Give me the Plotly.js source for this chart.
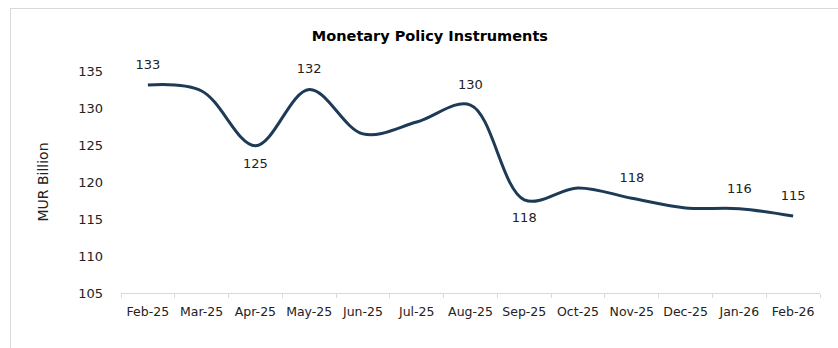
<!DOCTYPE html>
<html>
<head>
<meta charset="utf-8">
<script src="https://cdn.plot.ly/plotly-3.0.1.min.js"></script>
<style>
html,body{margin:0;padding:0;background:#fff;overflow:hidden;}
#frame{position:absolute;left:10px;top:8px;width:840px;height:350px;border:1px solid #d9d9d9;}
#chart{position:absolute;left:0;top:0;width:838px;height:348px;}
</style>
</head>
<body>
<div id="frame"></div>
<div id="chart"></div>
<script>
const months = ["Feb-25","Mar-25","Apr-25","May-25","Jun-25","Jul-25","Aug-25","Sep-25","Oct-25","Nov-25","Dec-25","Jan-26","Feb-26"];
const values = [133.1, 132.3, 124.9, 132.5, 126.5, 128.1, 130.4, 117.6, 119.2, 117.8, 116.5, 116.4, 115.4];
const labels = ["133","","125","132","","","130","118","","118","","116","115"];
const labelPos = ["top center","top center","bottom center","top center","top center","top center","top center","bottom center","top center","top center","top center","top center","top center"];

const font = "DejaVu Sans, Verdana, sans-serif";
Plotly.newPlot("chart", [{
  x: months,
  y: values,
  type: "scatter",
  mode: "lines+markers+text",
  line: {color: "#1d3a57", width: 3, shape: "spline", smoothing: 1},
  marker: {size: 19, color: "rgba(0,0,0,0)"},
  text: labels,
  textposition: labelPos,
  textfont: {family: font, size: 13, color: "#222"},
  cliponaxis: false,
  hoverinfo: "none"
}], {
  width: 838, height: 348,
  paper_bgcolor: "rgba(0,0,0,0)",
  plot_bgcolor: "rgba(0,0,0,0)",
  margin: {l: 121, r: 18, t: 71, b: 55},
  showlegend: false,
  font: {family: font, size: 13, color: "#222"},
  title: {text: "<b>Monetary Policy Instruments</b>", x: 0.513, xanchor: "center", xref: "container", y: 0.897, yanchor: "middle", yref: "container",
          font: {family: font, size: 14.5, color: "#000"}},
  xaxis: {
    type: "category", range: [-0.5, 12.5],
    showline: true, linecolor: "#d9d9d9", linewidth: 1,
    ticks: "outside", ticklen: 4, tickcolor: "#d9d9d9", tickson: "boundaries",
    showgrid: false, zeroline: false, tickangle: 0,
    tickfont: {family: font, size: 12.5, color: "#222"},
    ticklabelstandoff: 7
  },
  yaxis: {
    range: [105, 135], dtick: 5, tick0: 105,
    showgrid: false, zeroline: false, showline: false, ticks: "",
    tickfont: {family: font, size: 13, color: "#222"},
    ticklabelstandoff: 17,
    title: {text: "MUR Billion", font: {family: font, size: 14, color: "#222"}, standoff: 26}
  }
}, {staticPlot: true});
</script>
</body>
</html>
